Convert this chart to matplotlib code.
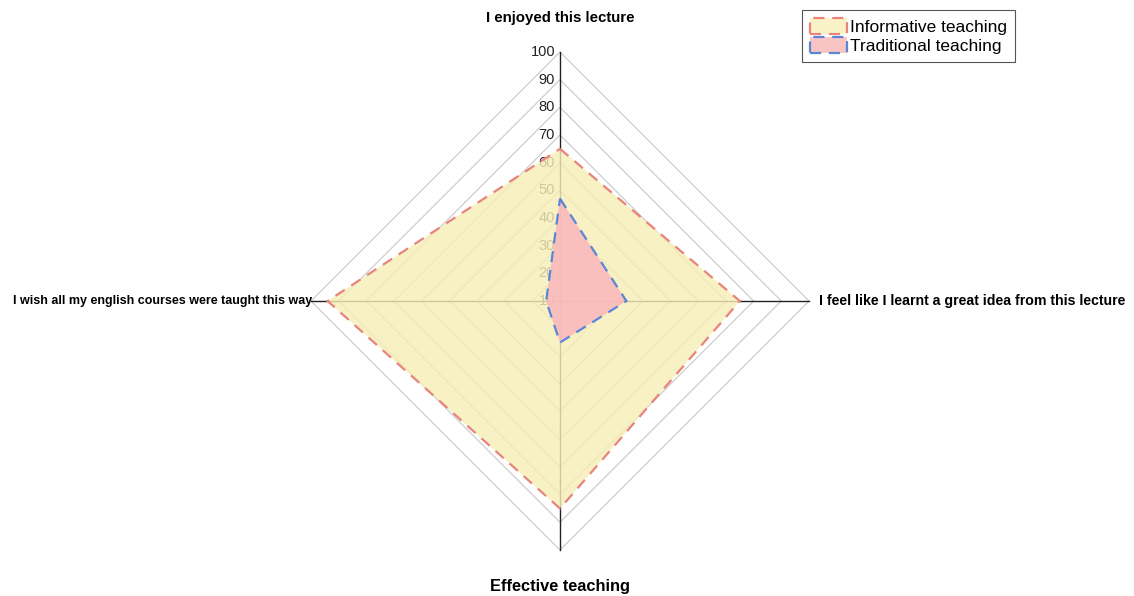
import matplotlib
matplotlib.use("Agg")
import matplotlib.pyplot as plt
from matplotlib.patches import Polygon, Patch
import numpy as np

plt.rcParams['font.family'] = ['Liberation Sans', 'DejaVu Sans']

# axes: top, right, bottom, left
categories = ["I enjoyed this lecture",
              "I feel like I learnt a great idea from this lecture",
              "Effective teaching",
              "I wish all my english courses were taught this way"]
informative = [65, 75, 85, 94]
traditional = [47, 34, 25, 15]
series_names = ["Informative teaching", "Traditional teaching"]
ticks = [10, 20, 30, 40, 50, 60, 70, 80, 90, 100]
r_min, r_max = 10, 100

W, H = 1134, 596
cx, cy, R = 560, 295, 249  # centre and radius in pixels

fig = plt.figure(figsize=(W / 100, H / 100), dpi=100)
ax = fig.add_axes([0, 0, 1, 1])
ax.set_xlim(-cx / R, (W - cx) / R)
ax.set_ylim(-cy / R, (H - cy) / R)
ax.set_aspect('equal')
ax.axis('off')

angles = np.pi / 2 - np.arange(4) * np.pi / 2
dirs = np.column_stack([np.cos(angles), np.sin(angles)])


def to_xy(vals):
    r = (np.asarray(vals, float) - r_min) / (r_max - r_min)
    return dirs * r[:, None]


# grid diamonds
for t in ticks[1:]:
    ax.add_patch(Polygon(to_xy([t] * 4), closed=True, fill=False,
                         edgecolor='#c8c8c8', linewidth=0.8, zorder=1))

# spokes
for d in dirs:
    ax.plot([0, d[0]], [0, d[1]], color='#222222', linewidth=1.0, zorder=1.5)

# radial tick labels
for t in ticks:
    r = (t - r_min) / (r_max - r_min)
    ax.text(-0.02, r, str(t), ha='right', va='center', fontsize=10.5,
            color='#222222', zorder=1.5)

# series
styles = [
    dict(data=informative, face='#f6eeb8', alpha=0.82, edge='#e8847c'),
    dict(data=traditional, face='#f9b9bb', alpha=0.88, edge='#5b85d6'),
]
for i, s in enumerate(styles):
    pts = to_xy(s['data'])
    ax.add_patch(Polygon(pts, closed=True, facecolor=s['face'], alpha=s['alpha'],
                         edgecolor='none', zorder=2 + i))
    ax.add_patch(Polygon(pts, closed=True, fill=False, edgecolor=s['edge'],
                         linewidth=1.6, linestyle=(0, (5, 3.5)), zorder=4 + i))

# category labels
ax.text(0, 283 / R, categories[0], ha='center', va='center', fontsize=10.8, fontweight='bold')
ax.text(259 / R, 0, categories[1], ha='left', va='center', fontsize=10.2, fontweight='bold')
ax.text(0, -286 / R, categories[2], ha='center', va='center', fontsize=11.8, fontweight='bold')
ax.text(-248 / R, 0, categories[3], ha='right', va='center', fontsize=9.0, fontweight='bold')

handles = [
    Patch(facecolor='#f8f2c6', edgecolor='#e8847c', linestyle=(0, (5, 3.5)),
          linewidth=1.6, label=series_names[0]),
    Patch(facecolor='#f9c4c4', edgecolor='#5b85d6', linestyle=(0, (5, 3.5)),
          linewidth=1.6, label=series_names[1]),
]
leg = ax.legend(handles=handles, loc='upper right', fontsize=12.5,
                bbox_to_anchor=(1015 / W, 1 - 10 / H), bbox_transform=fig.transFigure,
                borderaxespad=0, fancybox=False, framealpha=1, edgecolor='#555555',
                handlelength=2.1, handleheight=1.1, labelspacing=0.1,
                handletextpad=0.2, borderpad=0.45)
leg.get_frame().set_linewidth(0.8)

fig.savefig("out.png", dpi=100)
